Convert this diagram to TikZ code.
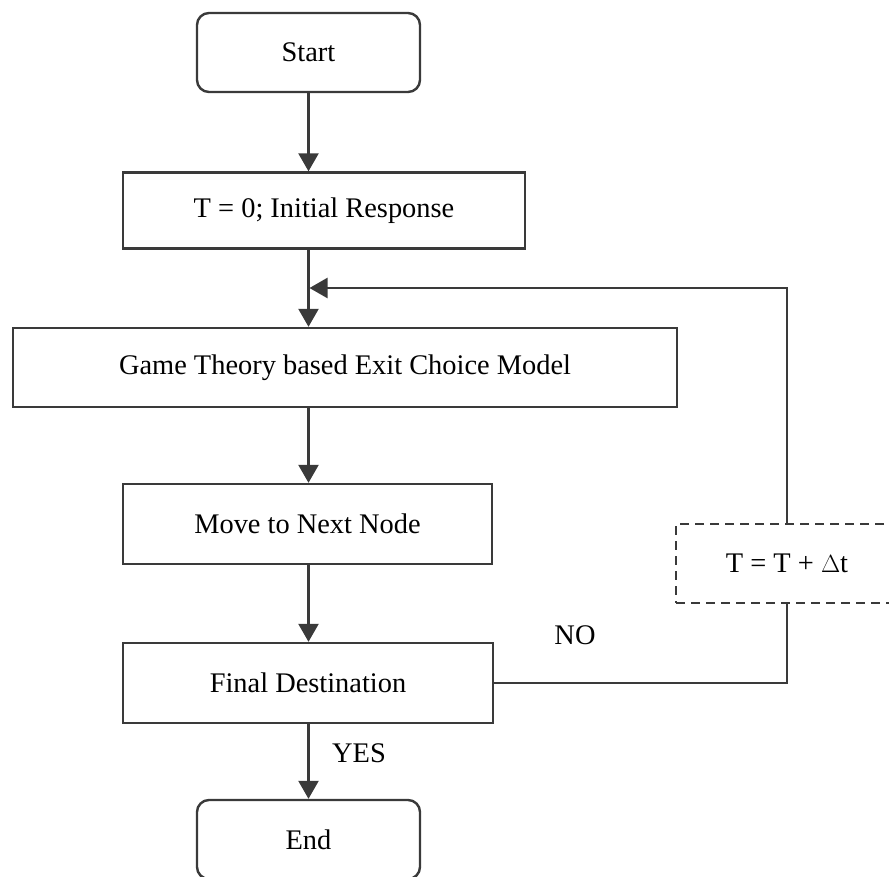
\documentclass[tikz,border=0pt]{standalone}
\usepackage{fontspec}
\setmainfont{Liberation Serif}
\usetikzlibrary{arrows.meta}
\definecolor{ink}{HTML}{3A3A3A}
\begin{document}
\begin{tikzpicture}[x=1pt,y=-1pt,
  every node/.style={font=\fontsize{28.4}{34}\selectfont, text=black},
  box/.style={draw=ink, line width=2.4pt, rectangle, inner sep=0pt, minimum height=79pt},
  term/.style={box, rounded corners=12pt, minimum width=223pt},
  dashbox/.style={box, dash pattern=on 9pt off 6pt},
  link/.style={draw=ink, line width=2.4pt},
  arr/.style={link, -{Triangle[length=18pt,width=20pt]}},
  lbl/.style={inner sep=0pt}]
\useasboundingbox (0,0) rectangle (889,876);
\clip (0,0) rectangle (889,876);

% process boxes
\node[term] (start) at (308.5,52.5) {Start};
\node[box, minimum width=402pt, minimum height=76pt] (init) at (324,210.5) {T = 0; Initial Response};
\node[box, minimum width=664pt] (game) at (345,367.5) {Game Theory based Exit Choice Model};
\node[box, minimum width=369pt, minimum height=80pt] (move) at (307.5,524) {Move to Next Node};
\node[box, minimum width=370pt, minimum height=80pt] (final) at (308,683) {Final Destination};
\node[term] (end) at (308.5,839.5) {End};
\node[dashbox, minimum width=222pt] (upd) at (787,563.5) {T = T + $\Delta$t};

% merge point of the loop on the main line
\coordinate (merge) at (308.5,288);

% main flow
\draw[arr] (start.south) -- (start |- init.north);
\draw[arr] (start |- init.south) -- (start |- game.north);
\draw[arr] (start |- game.south) -- (start |- move.north);
\draw[arr] (start |- move.south) -- (start |- final.north);
\draw[arr] (start |- final.south) -- (end.north);

% loop back
\draw[link] (final.east) -| (upd.south);
\draw[arr, shorten >=1pt] (upd.north) |- (merge);

% branch labels
\node[lbl] (no) at (575,635) {NO};
\node[lbl] (yes) at (359,753) {YES};
\end{tikzpicture}
\end{document}
